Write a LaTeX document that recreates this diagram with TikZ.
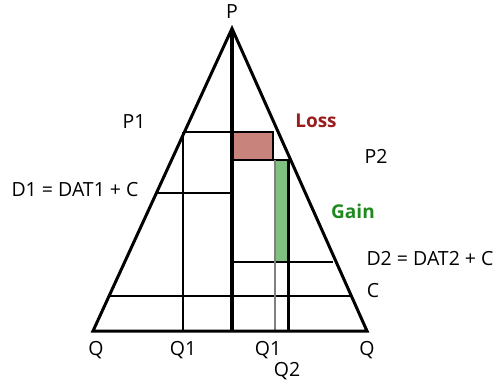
\documentclass[tikz,border=0pt]{standalone}
\usepackage{fontspec}
\setmainfont{Open Sans}
\usepackage{xcolor}
\usetikzlibrary{positioning}
\definecolor{lossfill}{RGB}{200,132,124}
\definecolor{losstext}{RGB}{155,28,28}
\definecolor{gainfill}{RGB}{128,192,128}
\definecolor{gaintext}{RGB}{30,138,30}

\begin{document}
\begin{tikzpicture}[
  x=1pt,y=-1pt,
  side/.style={line width=3pt,line join=miter},
  grid/.style={line width=2.5pt},
  lbl/.style={font=\fontsize{19.5}{20}\selectfont,inner sep=0pt},
  tag/.style={font=\bfseries\fontsize{19}{20}\selectfont,inner sep=0pt}
]
\useasboundingbox (0,0) rectangle (501,381);
\coordinate (apex) at (232,28.5);
\coordinate (ql) at (93,331);
\coordinate (qr) at (367,331);
% shaded areas
\fill[lossfill] (232,132) rectangle (273,160);
\fill[gainfill] (276,160) rectangle (288,262);
% horizontal and vertical lines
\draw[grid] (183,132) -- (273,132) -- (273,160);
\draw[grid] (232,160) -- (291,160);
\draw[grid] (156,193) -- (232,193);
\draw[grid] (232,262) -- (333,262);
\draw[grid] (109,296) -- (351,296);
\draw[grid] (183,132) -- (183,331);
\draw[grid] (288.5,160) -- (288.5,331);
\draw[gray,line width=2pt] (274.5,160) -- (274.5,331);
\draw[line width=3.5pt] (apex) -- (232,331);
\draw[side] (ql) -- (apex) -- (qr) -- cycle;
% labels
\node[lbl] (p) at (232,12) {P};
\node[lbl] (p1) at (134,122) {P1};
\node[tag,text=losstext] (loss) at (316,121) {Loss};
\node[lbl] (p2) at (376,156) {P2};
\node[tag,text=gaintext] (gain) at (353,211) {Gain};
\node[lbl] (d1) at (75,190) {D1 = DAT1 + C};
\node[lbl] (d2) at (430,259) {D2 = DAT2 + C};
\node[lbl] (c) at (373,291) {C};
\node[lbl] (qa) at (96,350) {Q};
\node[lbl] (q1a) at (183,350) {Q1};
\node[lbl] (q1b) at (268,350) {Q1};
\node[lbl] (q2) at (287,371) {Q2};
\node[lbl] (qb) at (367,350) {Q};
\end{tikzpicture}
\end{document}
